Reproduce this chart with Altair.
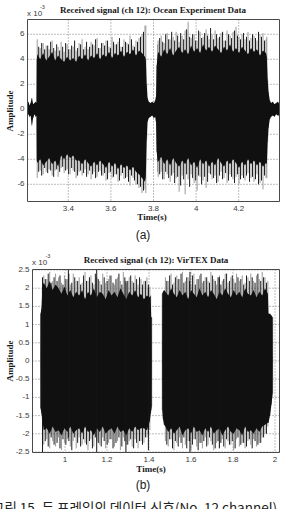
import altair as alt
import numpy as np
import pandas as pd

W, H = 284, 509
SERIF = "Liberation Serif"
SANS = "Liberation Sans"
KOREAN = "Noto Sans CJK KR"


def frame_times(t0, t1, n):
    """Evenly spaced sample instants across one transmitted frame."""
    return [round(float(v), 4) for v in np.linspace(t0, t1, n)]


# ---------------- (a) Ocean Experiment Data, amplitude in units of 1e-3 ----------------
A_PRE_T = [3.209, 3.213, 3.218, 3.223, 3.229, 3.235, 3.241, 3.247, 3.251, 3.2525]
A_PRE_HI = [0.4, 0.6, 0.3, 0.5, 0.9, 0.4, 0.5, 0.6, 0.5, 4.0]
A_PRE_LO = [-0.5, -0.4, -0.6, -0.5, -1.3, -0.7, -0.4, -0.6, -0.5, -4.1]

A_F1_T = frame_times(3.254, 3.760, 37)
A_F1_HI = [4.4, 4.0, 4.5, 3.9, 4.2, 4.6, 3.9, 4.3, 4.0, 3.8, 4.2, 3.9, 4.1, 3.8, 4.3, 4.0, 4.4, 3.9, 4.3,
           4.1, 4.5, 4.0, 4.4, 4.2, 4.6, 4.1, 4.5, 4.3, 4.7, 4.2, 4.6, 4.4, 4.8, 4.3, 4.7, 4.5, 4.2]
A_F1_UP = [5.6, 4.9, 5.3, 5.1, 4.8, 5.5, 4.7, 5.0, 5.4, 4.6, 5.2, 4.8, 5.0, 4.7, 5.3, 5.6, 5.0, 4.8, 5.4,
           5.1, 5.7, 4.9, 5.3, 5.5, 5.0, 5.8, 5.2, 5.4, 5.0, 5.6, 5.3, 5.9, 5.1, 5.5, 5.7, 6.0, 6.7]
A_F1_LO = [-4.3, -4.0, -4.5, -4.2, -3.9, -4.4, -4.1, -4.6, -3.7, -4.0, -3.6, -3.9, -3.7, -4.1, -4.1, -4.4,
           -4.0, -4.3, -4.6, -4.2, -4.5, -4.1, -4.4, -4.7, -4.2, -4.6, -4.3, -4.8, -4.4, -4.7, -4.5, -4.9,
           -4.6, -5.0, -5.2, -5.5, -5.8]
A_F1_DN = [-5.5, -4.9, -5.2, -5.0, -4.8, -5.3, -4.9, -5.4, -4.7, -5.1, -4.8, -5.2, -4.9, -5.5, -5.0, -5.3,
           -4.8, -5.2, -5.6, -5.0, -5.4, -4.9, -5.3, -5.7, -5.1, -5.5, -5.2, -5.8, -5.3, -5.6, -5.4, -6.1,
           -5.5, -6.0, -6.3, -6.7, -6.4]
# peaks falling between the samples above
A_F1_MID_T = frame_times(3.261, 3.753, 36)
A_F1_MID_UP = [5.0, 5.3, 4.8, 5.1, 5.4, 4.9, 5.2, 4.7, 5.0, 5.3, 4.8, 5.1, 5.5, 4.9, 5.2, 4.8, 5.4, 5.0,
               5.2, 5.6, 4.9, 5.3, 5.1, 5.5, 4.9, 5.4, 5.2, 5.7, 5.0, 5.4, 5.2, 5.6, 5.0, 5.4, 5.8, 6.2]
A_F1_MID_DN = [-5.0, -5.3, -4.7, -5.1, -4.9, -5.4, -4.8, -5.0, -4.6, -4.9, -5.2, -4.7, -5.0, -5.3, -4.9,
               -5.1, -5.4, -4.9, -5.2, -5.5, -5.0, -5.3, -5.1, -5.6, -5.0, -5.4, -5.2, -5.7, -5.1, -5.5,
               -5.8, -5.3, -5.7, -6.0, -6.2, -6.5]

A_GAP_T = [3.764, 3.768, 3.772, 3.778, 3.786, 3.794, 3.802, 3.808, 3.812, 3.815, 3.819]
A_GAP_HI = [4.0, 2.0, 0.9, 0.6, 0.5, 0.6, 0.5, 0.7, 1.0, 3.5, 4.3]
A_GAP_LO = [-5.4, -2.5, -1.0, -0.7, -0.6, -0.5, -0.7, -0.6, -1.0, -3.4, -4.2]
A_GAP_UP = [6.7, 2.0, 0.9, 0.6, 0.5, 0.6, 0.5, 0.7, 1.0, 3.5, 5.2]
A_GAP_DN = [-6.7, -2.5, -1.0, -0.7, -0.6, -0.5, -0.7, -0.6, -1.0, -3.4, -5.0]

A_F2_T = frame_times(3.822, 4.328, 37)
A_F2_HI = [4.6, 4.2, 4.8, 4.4, 4.9, 4.3, 4.7, 5.0, 4.5, 4.8, 4.4, 5.1, 4.6, 4.9, 4.5, 5.2, 4.7, 5.0, 4.6,
           5.1, 4.8, 4.5, 5.0, 4.7, 5.2, 4.6, 4.9, 4.5, 5.0, 4.7, 4.4, 4.9, 4.6, 4.8, 4.3, 4.7, 4.5]
A_F2_UP = [5.5, 5.9, 5.3, 6.1, 5.6, 5.8, 6.2, 5.4, 5.9, 6.3, 7.0, 5.7, 6.0, 5.5, 6.2, 5.8, 6.4, 5.6, 6.0,
           6.3, 5.7, 6.1, 5.5, 6.3, 5.9, 6.2, 6.6, 5.8, 6.0, 5.6, 6.2, 5.7, 5.9, 5.5, 6.0, 6.1, 5.6]
A_F2_LO = [-4.2, -3.8, -4.4, -4.0, -4.5, -3.9, -4.3, -4.6, -4.1, -4.4, -3.9, -4.5, -4.2, -4.7, -4.0, -4.4,
           -4.1, -4.6, -4.2, -4.5, -3.9, -4.3, -4.6, -4.1, -4.4, -4.0, -4.3, -4.7, -4.2, -4.5, -4.0, -4.4,
           -4.1, -4.5, -4.2, -4.6, -4.3]
A_F2_DN = [-5.4, -5.0, -5.6, -5.2, -5.8, -5.1, -5.5, -6.6, -5.3, -6.8, -5.6, -5.2, -5.9, -6.5, -5.4, -5.7,
           -6.3, -5.1, -5.6, -5.3, -5.8, -5.0, -5.5, -5.9, -5.2, -5.6, -5.4, -6.0, -5.3, -5.7, -5.1, -5.5,
           -5.8, -5.2, -5.9, -6.4, -5.5]
A_F2_MID_T = frame_times(3.829, 4.321, 36)
A_F2_MID_UP = [5.7, 5.4, 6.0, 5.6, 6.2, 5.5, 5.9, 6.1, 5.6, 6.4, 5.8, 6.0, 5.5, 6.3, 5.7, 6.1, 5.9, 6.5,
               5.6, 6.0, 5.8, 6.2, 5.5, 6.0, 5.7, 6.3, 5.9, 5.6, 6.1, 5.8, 5.5, 6.0, 5.7, 6.2, 5.8, 5.5]
A_F2_MID_DN = [-5.2, -5.6, -5.0, -5.5, -5.3, -5.9, -5.4, -6.1, -5.6, -5.2, -6.2, -5.5, -5.7, -5.3, -6.0,
               -5.4, -5.8, -5.2, -5.5, -5.9, -5.3, -5.6, -5.1, -5.7, -5.4, -5.9, -5.2, -5.6, -5.5, -5.3,
               -5.8, -5.4, -5.6, -6.0, -5.7, -5.3]

A_POST_T = [4.332, 4.336, 4.340, 4.346, 4.352, 4.360, 4.368, 4.376, 4.384, 4.391]
A_POST_HI = [4.2, 2.4, 1.4, 0.7, 0.5, 0.6, 0.4, 0.5, 0.6, 0.4]
A_POST_LO = [-4.4, -2.6, -1.5, -0.8, -0.6, -0.5, -0.6, -0.4, -0.5, -0.5]
A_POST_UP = [5.8, 2.4, 1.4, 0.7, 0.5, 0.6, 0.4, 0.5, 0.6, 0.4]
A_POST_DN = [-5.5, -2.6, -1.5, -0.8, -0.6, -0.5, -0.6, -0.4, -0.5, -0.5]

A_XTICKS = [3.4, 3.6, 3.8, 4.0, 4.2]
A_XLABELS = ["3.4", "3.6", "3.8", "4", "4.2"]
A_YTICKS = [-6, -4, -2, 0, 2, 4, 6]
A_YLABELS = ["-6", "-4", "-2", "0", "2", "4", "6"]

# ---------------- (b) VirTEX Data, amplitude in units of 1e-3 ----------------
B_PRE_T = [0.845, 0.870, 0.8830, 0.8835, 0.888, 0.892, 0.895]
B_PRE_HI = [0.0, 0.0, 0.0, 1.3, 1.45, 2.0, 2.1]
B_PRE_LO = [0.0, 0.0, 0.0, -1.3, -1.45, -1.6, -1.75]

B_F1_T = frame_times(0.899, 1.404, 37)
B_F1_HI = [2.15, 2.0, 2.2, 1.95, 2.1, 2.0, 1.85, 2.05, 1.8, 1.95, 1.75, 1.9, 1.8, 1.95, 1.7, 1.9, 1.8,
           2.0, 1.75, 1.9, 1.85, 1.7, 1.95, 1.8, 1.9, 1.75, 2.0, 1.85, 1.7, 1.9, 1.8, 1.95, 1.75, 1.85,
           1.7, 1.8, 1.75]
B_F1_UP = [2.35, 2.25, 2.45, 2.2, 2.4, 2.3, 2.15, 2.35, 2.25, 2.1, 2.4, 2.2, 2.3, 2.15, 2.45, 2.2, 2.35,
           2.1, 2.3, 2.2, 2.4, 2.15, 2.25, 2.35, 2.1, 2.3, 2.2, 2.45, 2.15, 2.3, 2.2, 2.35, 2.1, 2.25,
           2.2, 2.3, 2.05]
B_F1_LO = [-1.9, -1.85, -2.0, -1.8, -1.95, -1.9, -2.05, -1.85, -1.95, -1.8, -2.0, -1.9, -1.85, -2.0, -1.8,
           -1.95, -1.9, -2.05, -1.85, -1.95, -1.8, -2.0, -1.9, -1.85, -2.0, -1.8, -1.95, -1.9, -2.05,
           -1.85, -1.95, -1.8, -1.9, -1.85, -1.85, -1.9, -1.65]
B_F1_DN = [-2.3, -2.15, -2.4, -2.2, -2.35, -2.1, -2.45, -2.25, -2.15, -2.35, -2.2, -2.4, -2.1, -2.3, -2.25,
           -2.45, -2.15, -2.35, -2.2, -2.3, -2.1, -2.4, -2.25, -2.15, -2.35, -2.2, -2.45, -2.1, -2.3, -2.2,
           -2.35, -2.15, -2.4, -2.2, -2.25, -2.1, -1.9]
B_F1_MID_T = frame_times(0.906, 1.397, 36)
B_F1_MID_UP = [2.25, 2.4, 2.15, 2.3, 2.2, 2.35, 2.1, 2.25, 2.4, 2.15, 2.3, 2.2, 2.1, 2.35, 2.2, 2.3, 2.15,
               2.4, 2.25, 2.1, 2.3, 2.2, 2.35, 2.15, 2.25, 2.4, 2.1, 2.3, 2.2, 2.35, 2.15, 2.25, 2.3, 2.1,
               2.2, 2.0]
B_F1_MID_DN = [-2.2, -2.35, -2.1, -2.3, -2.25, -2.4, -2.15, -2.3, -2.2, -2.45, -2.1, -2.25, -2.35, -2.15,
               -2.3, -2.2, -2.4, -2.1, -2.25, -2.35, -2.2, -2.3, -2.15, -2.4, -2.25, -2.1, -2.35, -2.2,
               -2.3, -2.15, -2.4, -2.25, -2.2, -2.3, -2.1, -2.0]

B_GAP_T = [1.408, 1.4105, 1.413, 1.4135, 1.44, 1.4625, 1.463, 1.467, 1.472]
B_GAP_HI = [1.8, 1.2, 1.2, 0.0, 0.0, 0.0, 1.85, 1.9, 1.95]
B_GAP_LO = [-1.45, -1.35, -1.25, 0.0, 0.0, 0.0, -1.35, -1.6, -1.75]

B_F2_T = frame_times(1.478, 1.966, 37)
B_F2_HI = [1.9, 1.8, 2.0, 1.85, 1.75, 1.95, 1.8, 1.9, 1.7, 1.95, 1.85, 1.75, 2.0, 1.8, 1.9, 1.75, 1.95,
           1.85, 1.7, 1.9, 1.8, 2.0, 1.85, 1.75, 1.95, 1.8, 1.9, 1.75, 2.0, 1.85, 1.8, 1.95, 1.75, 1.9,
           1.8, 2.0, 1.85]
B_F2_UP = [2.3, 2.2, 2.4, 2.15, 2.35, 2.25, 2.45, 2.2, 2.3, 2.1, 2.4, 2.25, 2.35, 2.15, 2.3, 2.2, 2.45,
           2.25, 2.1, 2.35, 2.2, 2.4, 2.15, 2.3, 2.25, 2.4, 2.2, 2.35, 2.15, 2.3, 2.4, 2.2, 2.35, 2.25,
           2.45, 2.3, 2.2]
B_F2_LO = [-1.8, -1.95, -1.85, -2.0, -1.9, -1.8, -2.05, -1.9, -1.85, -2.0, -1.8, -1.95, -1.9, -2.05,
           -1.85, -1.95, -1.8, -2.0, -1.9, -1.85, -2.05, -1.9, -1.8, -1.95, -2.0, -1.85, -1.9, -2.05, -1.8,
           -1.95, -1.9, -2.0, -1.85, -1.95, -1.8, -1.75, -1.7]
B_F2_DN = [-2.2, -2.35, -2.15, -2.45, -2.25, -2.1, -2.4, -2.3, -2.2, -2.45, -2.15, -2.35, -2.25, -2.4,
           -2.1, -2.3, -2.2, -2.45, -2.25, -2.35, -2.15, -2.4, -2.2, -2.3, -2.45, -2.15, -2.35, -2.25,
           -2.4, -2.2, -2.3, -2.15, -2.35, -2.25, -2.1, -2.0, -1.8]
B_F2_MID_T = frame_times(1.4848, 1.9592, 36)
B_F2_MID_UP = [2.2, 2.35, 2.1, 2.3, 2.25, 2.4, 2.15, 2.3, 2.2, 2.35, 2.1, 2.25, 2.4, 2.2, 2.3, 2.15, 2.35,
               2.2, 2.3, 2.1, 2.25, 2.4, 2.2, 2.35, 2.15, 2.3, 2.25, 2.1, 2.35, 2.2, 2.3, 2.15, 2.4, 2.2,
               2.3, 2.15]
B_F2_MID_DN = [-2.3, -2.15, -2.4, -2.2, -2.35, -2.25, -2.1, -2.4, -2.2, -2.3, -2.15, -2.45, -2.25, -2.2,
               -2.35, -2.1, -2.3, -2.4, -2.2, -2.25, -2.35, -2.15, -2.3, -2.2, -2.4, -2.1, -2.3, -2.25,
               -2.35, -2.15, -2.4, -2.2, -2.3, -2.25, -2.1, -2.0]

B_END_T = [1.969, 1.976, 1.983, 1.989, 1.9895, 2.005, 2.019]
B_END_HI = [1.3, 1.3, 1.25, 1.2, 0.0, 0.0, 0.0]
B_END_LO = [-1.7, -1.5, -1.2, -0.9, 0.0, 0.0, 0.0]

# isolated full-scale samples drawn in solid black
B_PEAK_T = [0.893, 1.016, 1.151, 1.290, 1.397, 1.595, 1.735]
B_PEAK_HI = [2.3, 2.5, 2.5, 2.2, 2.1, 2.45, 2.3]
B_PEAK_LO = [-2.5, -2.1, -2.5, -2.5, -2.45, -2.5, -2.4]

B_XTICKS = [1.0, 1.2, 1.4, 1.6, 1.8, 2.0]
B_XLABELS = ["1", "1.2", "1.4", "1.6", "1.8", "2"]
B_YTICKS = [-2.5, -2, -1.5, -1, -0.5, 0, 0.5, 1, 1.5, 2, 2.5]
B_YLABELS = ["-2.5", "-2", "-1.5", "-1", "-0.5", "0", "0.5", "1", "1.5", "2", "2.5"]

CAPTION = "그림 15. 두 프레임의 데이터 신호(No. 12 channel)"


def table(*parts):
    rows = []
    for t, hi, lo, up, dn in parts:
        for a, b, c, d, e in zip(t, hi, lo, up, dn):
            rows.append({"t": a, "hi": b, "lo": c, "up": d, "dn": e})
    return pd.DataFrame(rows)


def peaks(*parts):
    rows = []
    for t, up, dn in parts:
        for a, b, c in zip(t, up, dn):
            rows.append({"t": a, "up": b, "dn": c})
    return pd.DataFrame(rows)


sig_a = table(
    (A_PRE_T, A_PRE_HI, A_PRE_LO, A_PRE_HI, A_PRE_LO),
    (A_F1_T, A_F1_HI, A_F1_LO, A_F1_UP, A_F1_DN),
    (A_GAP_T, A_GAP_HI, A_GAP_LO, A_GAP_UP, A_GAP_DN),
    (A_F2_T, A_F2_HI, A_F2_LO, A_F2_UP, A_F2_DN),
    (A_POST_T, A_POST_HI, A_POST_LO, A_POST_UP, A_POST_DN),
)
mid_a = peaks((A_F1_MID_T, A_F1_MID_UP, A_F1_MID_DN), (A_F2_MID_T, A_F2_MID_UP, A_F2_MID_DN))

sig_b = table(
    (B_PRE_T, B_PRE_HI, B_PRE_LO, B_PRE_HI, B_PRE_LO),
    (B_F1_T, B_F1_HI, B_F1_LO, B_F1_UP, B_F1_DN),
    (B_GAP_T, B_GAP_HI, B_GAP_LO, B_GAP_HI, B_GAP_LO),
    (B_F2_T, B_F2_HI, B_F2_LO, B_F2_UP, B_F2_DN),
    (B_END_T, B_END_HI, B_END_LO, B_END_HI, B_END_LO),
)
mid_b = peaks((B_F1_MID_T, B_F1_MID_UP, B_F1_MID_DN), (B_F2_MID_T, B_F2_MID_UP, B_F2_MID_DN))
full_b = peaks((B_PEAK_T, B_PEAK_HI, B_PEAK_LO))

# panel geometry on the 284 x 509 canvas
PANEL_A = dict(xdom=[3.2085, 4.3915], ydom=[-7.376, 7.184], left=27.5, right=279.5, top=19.5, bottom=201.5,
               title="Received signal (ch 12): Ocean Experiment Data", title_x=153, title_y=12.5,
               exp_x=27, exp_y=16, sup_x=40, sup_y=9, xlab_y=211, time_x=152, time_y=220,
               amp_y=111, tag="(a)", tag_x=143, tag_y=238.5)
PANEL_B = dict(xdom=[0.8452, 2.0214], ydom=[-2.514, 2.514], left=32.5, right=279.5, top=269.5, bottom=452.5,
               title="Received signal (ch 12): VirTEX Data", title_x=156, title_y=263,
               exp_x=32, exp_y=264.5, sup_x=45.5, sup_y=257.5, xlab_y=462, time_x=151, time_y=471.5,
               amp_y=361, tag="(b)", tag_x=143, tag_y=489)

ONE = pd.DataFrame({"k": [0]})


def label(text, x, y, **mark):
    return alt.Chart(pd.DataFrame({"s": [text]})).mark_text(**mark).encode(
        x=alt.value(x), y=alt.value(y), text="s:N")


def panel_layers(p, sig, mid, xt, xl, yt, yl, full=None):
    sx = alt.Scale(domain=p["xdom"], range=[p["left"], p["right"]], nice=False, zero=False)
    sy = alt.Scale(domain=p["ydom"], range=[p["bottom"], p["top"]], nice=False, zero=False)
    X = lambda f: alt.X(f, type="quantitative", scale=sx, axis=None)
    Y = lambda f: alt.Y(f, type="quantitative", scale=sy, axis=None)

    layers = []
    # dotted grid
    layers.append(alt.Chart(pd.DataFrame({"v": xt})).mark_rule(
        color="#7d7d7d", strokeWidth=1, strokeDash=[1, 2]).encode(
        x=X("v"), y=alt.value(p["top"]), y2=alt.value(p["bottom"])))
    layers.append(alt.Chart(pd.DataFrame({"v": yt})).mark_rule(
        color="#7d7d7d", strokeWidth=1, strokeDash=[1, 2]).encode(
        y=Y("v"), x=alt.value(p["left"]), x2=alt.value(p["right"])))
    # tall isolated peaks (light) and the denser dark fringe between them
    layers.append(alt.Chart(sig).mark_rule(color="#9a9a9a", strokeWidth=1).encode(
        x=X("t"), y=Y("up"), y2=alt.Y2("dn")))
    layers.append(alt.Chart(mid).mark_rule(color="#1e1e1e", strokeWidth=1).encode(
        x=X("t"), y=Y("up"), y2=alt.Y2("dn")))
    # dense waveform body
    layers.append(alt.Chart(sig).mark_area(color="#101010", interpolate="linear").encode(
        x=X("t"), y=Y("hi"), y2=alt.Y2("lo")))
    if full is not None:
        layers.append(alt.Chart(full).mark_rule(color="#151515", strokeWidth=1).encode(
            x=X("t"), y=Y("up"), y2=alt.Y2("dn")))
    # axes box
    layers.append(alt.Chart(ONE).mark_rect(fillOpacity=0, stroke="#4a4a4a", strokeWidth=1).encode(
        x=alt.value(p["left"]), x2=alt.value(p["right"]), y=alt.value(p["top"]), y2=alt.value(p["bottom"])))
    # tick labels
    layers.append(alt.Chart(pd.DataFrame({"v": xt, "s": xl})).mark_text(
        font=SANS, fontSize=8, color="#3a3a3a", baseline="alphabetic").encode(
        x=X("v"), y=alt.value(p["xlab_y"]), text="s:N"))
    layers.append(alt.Chart(pd.DataFrame({"v": yt, "s": yl})).mark_text(
        font=SANS, fontSize=8, color="#3a3a3a", align="right", baseline="middle").encode(
        y=Y("v"), x=alt.value(p["left"] - 3), text="s:N"))
    # titles and annotations
    layers.append(label(p["title"], p["title_x"], p["title_y"], font=SERIF, fontSize=9,
                        fontWeight="bold", color="#1a1a1a", baseline="alphabetic"))
    layers.append(label("x 10", p["exp_x"], p["exp_y"], font=SANS, fontSize=8, color="#3a3a3a",
                        align="left", baseline="alphabetic"))
    layers.append(label("-3", p["sup_x"], p["sup_y"], font=SANS, fontSize=5.5, color="#3a3a3a",
                        align="left", baseline="alphabetic"))
    layers.append(label("Time(s)", p["time_x"], p["time_y"], font=SERIF, fontSize=9,
                        fontWeight="bold", color="#1a1a1a", baseline="alphabetic"))
    layers.append(label("Amplitude", 13, p["amp_y"], font=SERIF, fontSize=9, fontWeight="bold",
                        color="#1a1a1a", angle=270, baseline="alphabetic"))
    layers.append(label(p["tag"], p["tag_x"], p["tag_y"], font=SANS, fontSize=12, color="#222222",
                        baseline="alphabetic"))
    return layers


layers = panel_layers(PANEL_A, sig_a, mid_a, A_XTICKS, A_XLABELS, A_YTICKS, A_YLABELS)
layers += panel_layers(PANEL_B, sig_b, mid_b, B_XTICKS, B_XLABELS, B_YTICKS, B_YLABELS, full=full_b)
layers.append(label(CAPTION, -8, 513, font=KOREAN, fontSize=13.5, color="#222222",
                    align="left", baseline="alphabetic"))

chart = alt.layer(*layers).resolve_scale(x="independent", y="independent").properties(
    width=W, height=H, autosize=alt.AutoSizeParams(type="none"), padding=0,
    background="white",
).configure_view(strokeWidth=0)

chart.save("out.html", embed_options={"renderer": "svg", "actions": False})
